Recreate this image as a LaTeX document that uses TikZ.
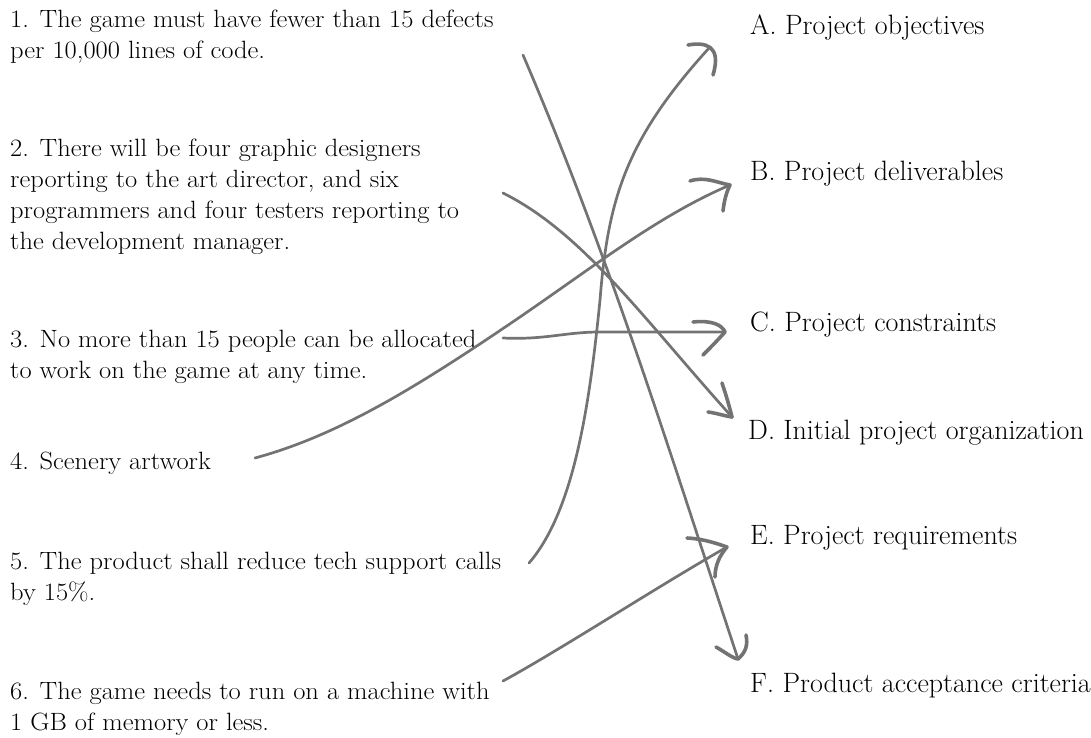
\documentclass[tikz,border=0pt]{standalone}
\usepackage{fontspec}
\newfontfamily\itemfont{Latin Modern Roman}[FakeStretch=1.06]
\definecolor{linegray}{RGB}{115,115,115}
\begin{document}
\begin{tikzpicture}[x=1pt,y=-1pt,
  item/.style={anchor=north west, inner sep=0pt, align=left, font=\itemfont\fontsize{25}{31}\selectfont},
  lab/.style={anchor=base west, inner sep=0pt, font=\fontsize{28}{32}\selectfont},
  conn/.style={draw=linegray, line width=2.7pt, line cap=round},
  head/.style={draw=linegray, line width=3.6pt, line cap=round, line join=round}]
\useasboundingbox (0,0) rectangle (1091,738);

% left items
\node[item] (i1) at (10,10) {1. The game must have fewer than 15 defects\\per 10,000 lines of code.};
\node[item] (i2) at (10,139) {2. There will be four graphic designers\\reporting to the art director, and six\\programmers and four testers reporting to\\the development manager.};
\node[item] (i3) at (10,330) {3. No more than 15 people can be allocated\\to work on the game at any time.};
\node[item] (i4) at (10,452) {4. Scenery artwork};
\node[item] (i5) at (10,552) {5. The product shall reduce tech support calls\\by 15\%.};
\node[item] (i6) at (10,682) {6. The game needs to run on a machine with\\1 GB of memory or less.};

% right labels
\node[lab] (A) at (750,35) {A. Project objectives};
\node[lab] (B) at (750,181) {B. Project deliverables};
\node[lab] (C) at (750,331) {C. Project constraints};
\node[lab] (D) at (748,439) {D. Initial project organization};
\node[lab] (E) at (750,544) {E. Project requirements};
\node[lab] (F) at (750,692) {F. Product acceptance criteria};

% connector ends
\coordinate (s1) at (523,55);
\coordinate (s2) at (503,193);
\coordinate (s3) at (503,338);
\coordinate (s4) at (255,458);
\coordinate (s5) at (529,563);
\coordinate (s6) at (503,681);
\coordinate (tA) at (710,47);
\coordinate (tB) at (730,185);
\coordinate (tC) at (725,332);
\coordinate (tD) at (732,417);
\coordinate (tE) at (727,547);
\coordinate (tF) at (738,659);

% connectors
\draw[conn] (s1) .. controls (609,255) and (672,459) .. (tF);
\draw[conn] (s2) .. controls (583,233) and (642,317) .. (tD);
\draw[conn] (s3) .. controls (545,340) and (565,332) .. (600,332) -- (tC);
\draw[conn] (s4) .. controls (340,435) and (420,385) .. (520,317) .. controls (600,262) and (660,215) .. (tB);
\draw[conn] (s5) .. controls (575,510) and (590,400) .. (600,300) .. controls (608,200) and (625,140) .. (tA);
\draw[conn] (s6) .. controls (560,650) and (660,585) .. (tE);

% hand-drawn arrowheads
\draw[head] (688,45) .. controls (705,42) and (722,45) .. (713,75);
\draw[head] (690,181) .. controls (705,176) and (718,183) .. (tB) .. controls (726,193) and (724,202) .. (723,211);
\draw[head] (693,322) .. controls (712,320) and (722,325) .. (tC) .. controls (716,342) and (710,348) .. (703,355);
\draw[head] (708,412) .. controls (716,413) and (725,416) .. (tD);
\draw[head] (722,383) .. controls (726,395) and (729,405) .. (tD);
\draw[head] (687,538) .. controls (705,539) and (718,544) .. (tE) .. controls (720,555) and (715,565) .. (715,577);
\draw[head] (716,647) .. controls (725,652) and (732,658) .. (tF) .. controls (746,652) and (748,645) .. (746,635);
\end{tikzpicture}
\end{document}
